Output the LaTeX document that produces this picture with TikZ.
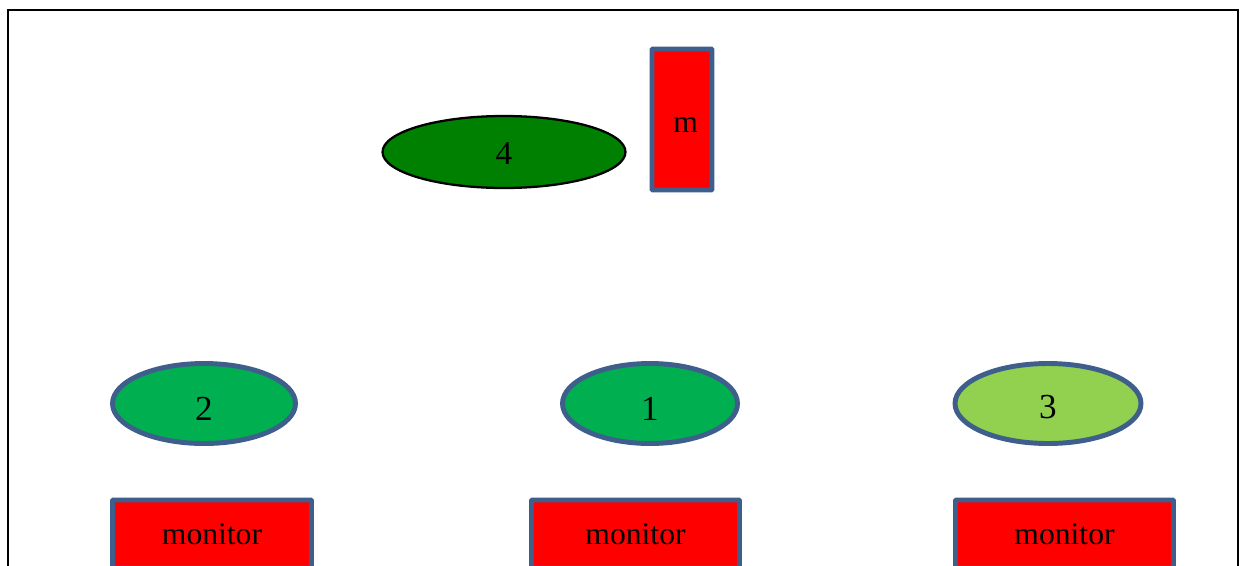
\documentclass[tikz,border=0pt]{standalone}
\usepackage{fontspec}
\setmainfont{Liberation Serif}
\usetikzlibrary{shapes.geometric}
\definecolor{edgeblue}{RGB}{62,94,140}
\definecolor{darkgreen}{RGB}{0,128,0}
\definecolor{midgreen}{RGB}{0,176,80}
\definecolor{lightgreen}{RGB}{146,208,80}
\newcommand{\lowered}[2]{\raisebox{-#1}[\height][\depth]{#2}}

\begin{document}
\begin{tikzpicture}[
							x=0.02cm,
							y=-0.02cm,
							font=\fontsize{18}{20}\selectfont,
							proc/.style={ellipse, draw=edgeblue, line width=2.8pt, inner sep=0pt, minimum width=3.66cm, minimum height=1.6cm, font=\fontsize{20}{22}\selectfont},
							redbox/.style={rectangle, draw=edgeblue, line width=2.8pt, fill=red, inner sep=0pt, rounded corners=0.5pt}
						]
						\useasboundingbox (0,0) rectangle (1243,565);
						\draw[line width=1.6pt] (8,10) rectangle (1238,600);

						\node[ellipse, draw=black, line width=1.3pt, fill=darkgreen, inner sep=0pt, minimum width=4.86cm, minimum height=1.44cm, font=\fontsize{19}{21}\selectfont] (n4) at (504,152) {\lowered{0.04cm}{4}};
						\node[redbox, minimum width=1.2cm, minimum height=2.82cm] (m) at (682,119.5) {\hspace{0.15cm}\lowered{0.12cm}{m}};

						\node[proc, fill=midgreen] (n2) at (204,403.5) {\lowered{0.1cm}{2}};
						\node[proc, fill=midgreen, minimum width=3.5cm] (n1) at (650,403.5) {\lowered{0.1cm}{1}};
						\node[proc, fill=lightgreen, minimum width=3.72cm] (n3) at (1048,403.5) {\lowered{0.08cm}{3}};

						\node[redbox, minimum width=3.98cm, minimum height=1.36cm] (mon2) at (212,534) {monitor};
						\node[redbox, minimum width=4.16cm, minimum height=1.36cm] (mon1) at (635.5,534) {monitor};
						\node[redbox, minimum width=4.36cm, minimum height=1.36cm] (mon3) at (1064.5,534) {monitor};
					\end{tikzpicture}
\end{document}
